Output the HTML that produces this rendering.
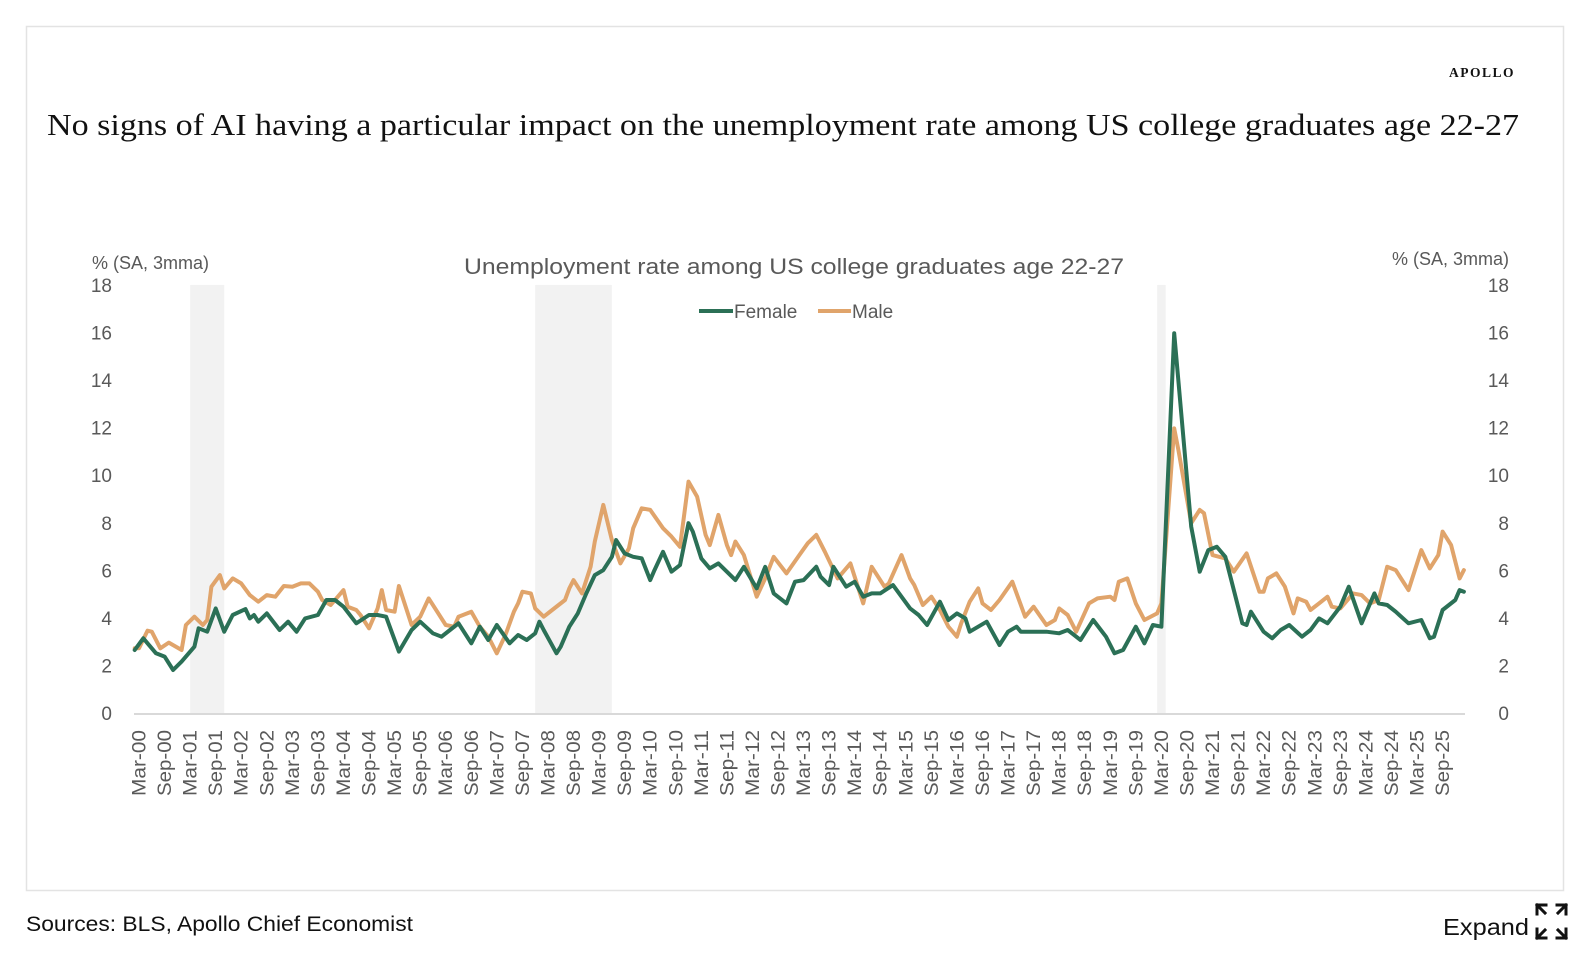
<!DOCTYPE html>
<html><head><meta charset="utf-8"><style>
html,body{margin:0;padding:0;background:#fff;}
body{width:1592px;height:968px;position:relative;overflow:hidden;font-family:"Liberation Sans",sans-serif;}
svg{position:absolute;left:0;top:0;}
</style></head><body>
<svg id="chart" width="1592" height="968" viewBox="0 0 1592 968" xmlns="http://www.w3.org/2000/svg">
<rect x="26.5" y="26.5" width="1537" height="864" fill="#fff" stroke="#e3e3e3" stroke-width="1.5"/>
<text x="1515" y="77" text-anchor="end" font-family="Liberation Serif,serif" font-weight="bold" font-size="13.5" letter-spacing="1.5" fill="#111">APOLLO</text>
<text x="47" y="135" font-family="Liberation Serif,serif" font-size="31" fill="#111" textLength="1472" lengthAdjust="spacingAndGlyphs">No signs of  AI having a particular impact on the unemployment rate among US college graduates age 22-27</text>
<text x="464" y="274" font-size="22" fill="#595959" textLength="660" lengthAdjust="spacingAndGlyphs">Unemployment rate among US college graduates age 22-27</text>
<text x="92" y="269" font-size="18" fill="#595959">% (SA, 3mma)</text>
<text x="1509" y="265" text-anchor="end" font-size="18" fill="#595959">% (SA, 3mma)</text>
<g id="shading"></g>
<line x1="134" y1="714" x2="1465" y2="714" stroke="#d9d9d9" stroke-width="2"/>
<g id="yticks"></g>
<g id="xticks"></g>
<g id="series"></g>
<g>
<line x1="699" y1="311" x2="733" y2="311" stroke="#2b7056" stroke-width="4"/>
<text x="734" y="318" font-size="19" fill="#595959">Female</text>
<line x1="818" y1="311" x2="851" y2="311" stroke="#e0a46b" stroke-width="4"/>
<text x="852" y="318" font-size="19" fill="#595959">Male</text>
</g>
<text x="26" y="931" font-size="21" fill="#111" textLength="387" lengthAdjust="spacingAndGlyphs">Sources: BLS, Apollo Chief Economist</text>
<text x="1443" y="935" font-size="23" fill="#111" textLength="86" lengthAdjust="spacingAndGlyphs">Expand</text>
<g stroke="#111" stroke-width="3" fill="none" stroke-linecap="square">
<path d="M1537 914 v-9 h9 M1537 905 l8 8"/>
<path d="M1566 914 v-9 h-9 M1566 905 l-8 8"/>
<path d="M1537 929 v9 h9 M1537 938 l8 -8"/>
<path d="M1566 929 v9 h-9 M1566 938 l-8 -8"/>
</g>
</svg>
<script>
const femaleMonths=[-1,1,4,6,8,10,13,14,16,18,20,22,25,26,27,28,30,33,35,37,39,42,44,46,48,51,54,56,58,61,64,66,69,71,73,75,78,80,82,84,87,89,91,93,94,95,98,99,101,103,105,107,109,111,112,114,116,118,120,121,123,125,127,129,130,132,134,136,140,142,145,147,149,152,154,156,159,160,162,163,166,168,170,172,174,177,181,183,185,188,190,192,194,195,199,202,204,206,207,210,213,216,218,221,224,227,229,231,234,236,238,240,243,247,249,251,253,255,259,260,261,264,266,268,270,273,275,277,279,282,284,287,290,291,293,295,298,301,303,304,306,309,310,311];
const femaleValues=[2.65,3.14,2.51,2.37,1.81,2.16,2.79,3.56,3.42,4.40,3.42,4.12,4.37,3.98,4.12,3.84,4.19,3.49,3.84,3.42,3.98,4.12,4.75,4.75,4.47,3.77,4.12,4.12,4.05,2.58,3.49,3.84,3.35,3.21,3.49,3.77,2.93,3.63,3.07,3.70,2.93,3.28,3.07,3.35,3.84,3.49,2.51,2.79,3.63,4.19,5.03,5.80,6.01,6.57,7.27,6.71,6.57,6.50,5.59,6.01,6.78,5.94,6.22,7.98,7.63,6.50,6.08,6.29,5.59,6.15,5.24,6.15,5.03,4.61,5.52,5.59,6.15,5.73,5.38,6.15,5.31,5.52,4.89,5.03,5.03,5.38,4.40,4.12,3.70,4.68,3.91,4.19,3.98,3.42,3.84,2.86,3.42,3.63,3.42,3.42,3.42,3.35,3.49,3.07,3.91,3.21,2.51,2.65,3.63,2.93,3.70,3.63,15.97,7.84,5.94,6.85,6.99,6.57,3.77,3.70,4.26,3.42,3.14,3.49,3.70,3.21,3.49,3.98,3.77,4.47,5.31,3.77,5.03,4.61,4.54,4.26,3.77,3.91,3.14,3.21,4.33,4.75,5.17,5.10];
const maleMonths=[-1,0,2,3,5,7,10,11,13,15,16,17,19,20,22,24,26,28,30,32,34,36,38,40,42,43,45,48,49,51,52,54,56,57,58,60,61,64,66,68,70,72,74,75,78,80,82,84,86,88,89,90,92,93,95,97,100,101,102,104,106,107,109,111,113,115,116,118,120,123,125,127,129,131,133,134,136,138,139,140,142,145,147,149,152,155,157,159,161,164,167,170,172,175,176,179,181,182,184,186,188,190,192,193,195,197,198,200,202,205,208,210,213,215,216,218,220,223,225,228,229,230,232,234,236,239,240,243,244,247,249,250,252,255,257,260,263,264,265,267,269,271,272,274,275,277,279,280,282,285,287,289,291,293,295,298,301,303,305,306,308,310,311];
const maleValues=[2.72,2.72,3.46,3.42,2.72,2.96,2.65,3.70,4.05,3.70,3.91,5.31,5.80,5.24,5.66,5.45,4.96,4.68,4.96,4.89,5.34,5.31,5.45,5.45,5.10,4.75,4.54,5.17,4.47,4.33,4.12,3.56,4.40,5.17,4.33,4.26,5.34,3.70,4.05,4.82,4.26,3.70,3.63,4.05,4.26,3.63,3.21,2.51,3.28,4.26,4.61,5.10,5.03,4.40,4.05,4.33,4.75,5.24,5.59,5.03,6.15,7.21,8.75,7.27,6.29,6.92,7.77,8.61,8.54,7.77,7.42,6.99,9.73,9.10,7.49,7.06,8.33,7.06,6.64,7.21,6.64,4.89,5.66,6.57,5.87,6.64,7.14,7.49,6.78,5.66,6.29,4.61,6.15,5.31,5.45,6.64,5.66,5.38,4.54,4.89,4.33,3.63,3.21,3.77,4.68,5.24,4.61,4.33,4.75,5.52,4.05,4.47,3.70,3.91,4.40,4.12,3.42,4.61,4.82,4.89,4.75,5.52,5.66,4.61,3.91,4.19,4.61,11.97,11.06,7.98,8.54,8.40,6.64,6.50,5.94,6.71,5.10,5.10,5.66,5.87,5.31,4.19,4.82,4.68,4.33,4.61,4.89,4.47,4.40,5.03,4.96,4.61,4.75,6.15,6.01,5.17,6.85,6.08,6.64,7.63,7.06,5.66,6.01];
const recessionStarts=[12,93,239];
const recessionEnds=[20,111,241];
const yTicks=[0,2,4,6,8,10,12,14,16,18];
const monthNames=["Mar","Sep"];

const NS="http://www.w3.org/2000/svg";
function xScale(m){return 139+4.26*m;}
function yScale(v){return 713-23.78*v;}
function mk(tag,attrs,parent){const e=document.createElementNS(NS,tag);for(const k in attrs)e.setAttribute(k,attrs[k]);parent.appendChild(e);return e;}

const shading=document.getElementById('shading');
recessionStarts.forEach((s,i)=>{
  const r=mk('rect',{x:xScale(s),y:yScale(18),width:xScale(recessionEnds[i])-xScale(s),height:yScale(0)-yScale(18)+1,fill:'#f2f2f2'},shading);
  
  
});

const yt=document.getElementById('yticks');
yTicks.forEach(v=>{
  const l=mk('text',{x:112,y:yScale(v)+7,'text-anchor':'end','font-size':19,fill:'#595959'},yt);
  l.textContent=v;
  
  
  const r=mk('text',{x:1509,y:yScale(v)+7,'text-anchor':'end','font-size':19,fill:'#595959'},yt);
  r.textContent=v;
  
  
});

const xt=document.getElementById('xticks');
for(let m=0;m<=306;m+=6){
  const yr=Math.floor(m/12);
  const lab=monthNames[(m/6)%2]+'-'+String(yr).padStart(2,'0');
  const x=xScale(m);
  const t=mk('text',{x:0,y:0,transform:'translate('+(x+6.5)+',730) rotate(-90)','text-anchor':'end','font-size':19,fill:'#595959',textLength:66,lengthAdjust:'spacingAndGlyphs'},xt);
  t.textContent=lab;
  
  
}

const series=document.getElementById('series');
function drawLine(months,values,color,name){
  const d=months.map((m,i)=>(i?'L':'M')+xScale(m).toFixed(1)+' '+yScale(values[i]).toFixed(1)).join(' ');
  const p=mk('path',{d:d,fill:'none',stroke:color,'stroke-width':4,'stroke-linejoin':'round','stroke-linecap':'round'},series);
  
  
}
drawLine(maleMonths,maleValues,'#e0a46b','male-series-line');
drawLine(femaleMonths,femaleValues,'#2b7056','female-series-line');
</script>
</body></html>
